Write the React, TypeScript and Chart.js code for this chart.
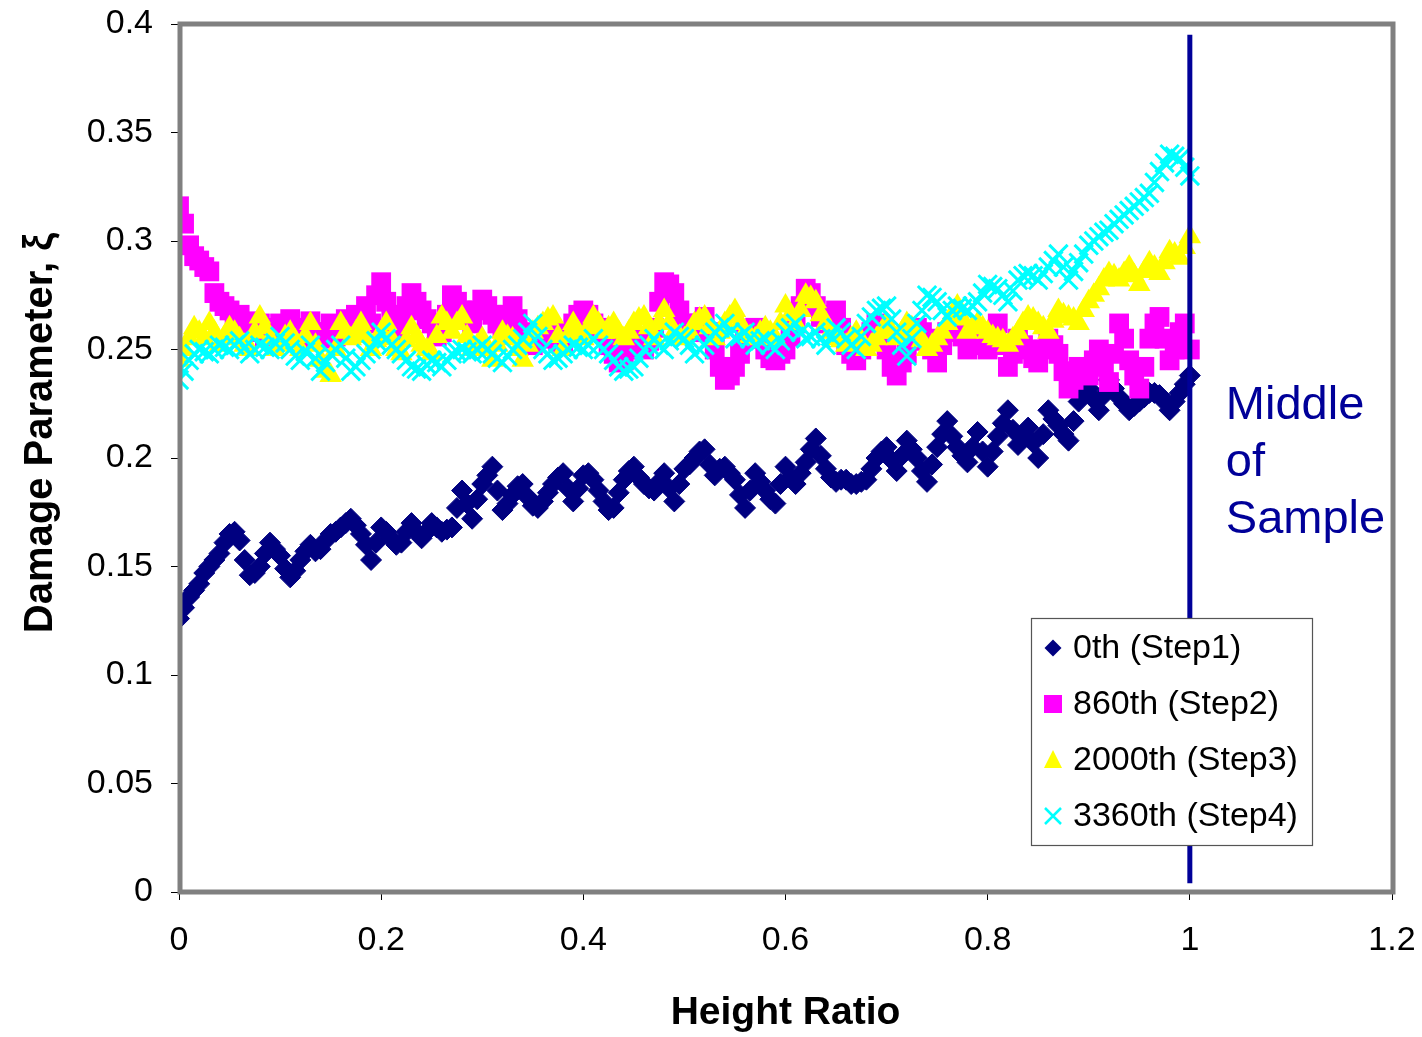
import React, { useEffect, useRef } from 'react';
import { Chart, registerables } from 'chart.js';

Chart.register(...registerables);

const FONT = '"Liberation Sans", Arial, sans-serif';

const heightRatio = [
  0.000, 0.005, 0.010, 0.015, 0.020, 0.025, 0.030, 0.035, 0.040, 0.045,
  0.050, 0.055, 0.060, 0.065, 0.070, 0.075, 0.080, 0.085, 0.090, 0.095,
  0.100, 0.105, 0.110, 0.115, 0.120, 0.125, 0.130, 0.135, 0.140, 0.145,
  0.150, 0.155, 0.160, 0.165, 0.170, 0.175, 0.180, 0.185, 0.190, 0.195,
  0.200, 0.205, 0.210, 0.215, 0.220, 0.225, 0.230, 0.235, 0.240, 0.245,
  0.250, 0.255, 0.260, 0.265, 0.270, 0.275, 0.280, 0.285, 0.290, 0.295,
  0.300, 0.305, 0.310, 0.315, 0.320, 0.325, 0.330, 0.335, 0.340, 0.345,
  0.350, 0.355, 0.360, 0.365, 0.370, 0.375, 0.380, 0.385, 0.390, 0.395,
  0.400, 0.405, 0.410, 0.415, 0.420, 0.425, 0.430, 0.435, 0.440, 0.445,
  0.450, 0.455, 0.460, 0.465, 0.470, 0.475, 0.480, 0.485, 0.490, 0.495,
  0.500, 0.505, 0.510, 0.515, 0.520, 0.525, 0.530, 0.535, 0.540, 0.545,
  0.550, 0.555, 0.560, 0.565, 0.570, 0.575, 0.580, 0.585, 0.590, 0.595,
  0.600, 0.605, 0.610, 0.615, 0.620, 0.625, 0.630, 0.635, 0.640, 0.645,
  0.650, 0.655, 0.660, 0.665, 0.670, 0.675, 0.680, 0.685, 0.690, 0.695,
  0.700, 0.705, 0.710, 0.715, 0.720, 0.725, 0.730, 0.735, 0.740, 0.745,
  0.750, 0.755, 0.760, 0.765, 0.770, 0.775, 0.780, 0.785, 0.790, 0.795,
  0.800, 0.805, 0.810, 0.815, 0.820, 0.825, 0.830, 0.835, 0.840, 0.845,
  0.850, 0.855, 0.860, 0.865, 0.870, 0.875, 0.880, 0.885, 0.890, 0.895,
  0.900, 0.905, 0.910, 0.915, 0.920, 0.925, 0.930, 0.935, 0.940, 0.945,
  0.950, 0.955, 0.960, 0.965, 0.970, 0.975, 0.980, 0.985, 0.990, 0.995,
  1.000,
];

const step1 = [
  0.126, 0.131, 0.136, 0.139, 0.142, 0.147, 0.150, 0.153, 0.156, 0.161,
  0.165, 0.166, 0.162, 0.153, 0.146, 0.147, 0.150, 0.156, 0.161, 0.158,
  0.155, 0.149, 0.145, 0.148, 0.153, 0.157, 0.160, 0.157, 0.158, 0.162,
  0.165, 0.166, 0.168, 0.170, 0.172, 0.169, 0.165, 0.160, 0.153, 0.161,
  0.168, 0.166, 0.163, 0.160, 0.161, 0.166, 0.170, 0.166, 0.163, 0.166,
  0.170, 0.168, 0.166, 0.167, 0.168, 0.177, 0.185, 0.179, 0.172, 0.181,
  0.188, 0.192, 0.196, 0.185, 0.176, 0.179, 0.183, 0.187, 0.188, 0.182,
  0.178, 0.177, 0.180, 0.184, 0.188, 0.191, 0.193, 0.186, 0.180, 0.186,
  0.192, 0.193, 0.190, 0.185, 0.180, 0.176, 0.177, 0.184, 0.190, 0.194,
  0.196, 0.191, 0.188, 0.186, 0.185, 0.189, 0.193, 0.186, 0.180, 0.188,
  0.195, 0.197, 0.200, 0.203, 0.204, 0.197, 0.192, 0.195, 0.196, 0.193,
  0.190, 0.183, 0.177, 0.185, 0.193, 0.189, 0.185, 0.181, 0.179, 0.188,
  0.196, 0.191, 0.188, 0.193, 0.198, 0.204, 0.209, 0.201, 0.195, 0.191,
  0.189, 0.190, 0.190, 0.188, 0.188, 0.189, 0.190, 0.195, 0.200, 0.203,
  0.205, 0.199, 0.194, 0.201, 0.208, 0.204, 0.200, 0.194, 0.189, 0.197,
  0.205, 0.211, 0.217, 0.210, 0.205, 0.201, 0.198, 0.205, 0.212, 0.203,
  0.196, 0.203, 0.210, 0.216, 0.222, 0.213, 0.206, 0.210, 0.214, 0.207,
  0.200, 0.211, 0.222, 0.218, 0.215, 0.211, 0.208, 0.217, 0.226, 0.229,
  0.232, 0.227, 0.222, 0.229, 0.236, 0.232, 0.228, 0.225, 0.222, 0.224,
  0.226, 0.228, 0.230, 0.230, 0.229, 0.226, 0.222, 0.226, 0.230, 0.234,
  0.238,
];

const step2 = [
  0.316, 0.308, 0.298, 0.293, 0.291, 0.288, 0.286, 0.276, 0.272, 0.270,
  0.268, 0.264, 0.266, 0.262, 0.263, 0.258, 0.262, 0.256, 0.260, 0.257,
  0.262, 0.258, 0.264, 0.260, 0.258, 0.255, 0.263, 0.258, 0.255, 0.258,
  0.262, 0.256, 0.258, 0.264, 0.262, 0.266, 0.265, 0.270, 0.262, 0.275,
  0.281, 0.272, 0.266, 0.258, 0.262, 0.270, 0.276, 0.272, 0.268, 0.264,
  0.262, 0.256, 0.258, 0.266, 0.275, 0.272, 0.268, 0.264, 0.262, 0.268,
  0.273, 0.270, 0.266, 0.262, 0.260, 0.266, 0.270, 0.264, 0.258, 0.254,
  0.252, 0.256, 0.255, 0.260, 0.258, 0.254, 0.252, 0.258, 0.262, 0.266,
  0.268, 0.266, 0.262, 0.260, 0.258, 0.252, 0.248, 0.244, 0.245, 0.250,
  0.255, 0.252, 0.250, 0.254, 0.260, 0.272, 0.281, 0.280, 0.276, 0.268,
  0.262, 0.260, 0.258, 0.262, 0.265, 0.258, 0.250, 0.242, 0.236, 0.238,
  0.242, 0.248, 0.255, 0.258, 0.260, 0.255, 0.250, 0.246, 0.245, 0.248,
  0.250, 0.256, 0.262, 0.270, 0.278, 0.276, 0.270, 0.265, 0.262, 0.266,
  0.268, 0.260, 0.252, 0.248, 0.245, 0.250, 0.255, 0.258, 0.262, 0.256,
  0.250, 0.242, 0.238, 0.244, 0.248, 0.254, 0.260, 0.258, 0.255, 0.250,
  0.244, 0.252, 0.258, 0.260, 0.262, 0.256, 0.250, 0.252, 0.255, 0.252,
  0.250, 0.256, 0.262, 0.252, 0.242, 0.248, 0.255, 0.252, 0.250, 0.246,
  0.244, 0.250, 0.255, 0.252, 0.248, 0.240, 0.232, 0.236, 0.242, 0.240,
  0.238, 0.245, 0.250, 0.242, 0.235, 0.248, 0.262, 0.255, 0.245, 0.238,
  0.232, 0.242, 0.255, 0.262, 0.265, 0.255, 0.245, 0.250, 0.258, 0.262,
  0.250,
];

const step3 = [
  0.245, 0.250, 0.255, 0.260, 0.258, 0.255, 0.262, 0.258, 0.252, 0.256,
  0.260, 0.258, 0.255, 0.252, 0.250, 0.258, 0.265, 0.260, 0.255, 0.250,
  0.252, 0.256, 0.258, 0.254, 0.250, 0.256, 0.262, 0.252, 0.245, 0.240,
  0.238, 0.250, 0.262, 0.258, 0.255, 0.258, 0.262, 0.256, 0.250, 0.254,
  0.258, 0.262, 0.255, 0.250, 0.248, 0.254, 0.260, 0.256, 0.252, 0.250,
  0.248, 0.256, 0.265, 0.262, 0.258, 0.262, 0.265, 0.256, 0.250, 0.252,
  0.255, 0.250, 0.245, 0.252, 0.258, 0.256, 0.255, 0.250, 0.245, 0.252,
  0.258, 0.260, 0.262, 0.264, 0.265, 0.256, 0.250, 0.256, 0.262, 0.258,
  0.255, 0.260, 0.265, 0.262, 0.258, 0.260, 0.262, 0.258, 0.255, 0.258,
  0.262, 0.264, 0.265, 0.260, 0.255, 0.262, 0.268, 0.262, 0.258, 0.256,
  0.255, 0.258, 0.262, 0.264, 0.265, 0.260, 0.255, 0.258, 0.262, 0.265,
  0.268, 0.262, 0.258, 0.256, 0.255, 0.258, 0.260, 0.258, 0.255, 0.262,
  0.270, 0.266, 0.262, 0.268, 0.275, 0.274, 0.272, 0.266, 0.262, 0.258,
  0.255, 0.254, 0.252, 0.255, 0.258, 0.254, 0.250, 0.252, 0.255, 0.258,
  0.262, 0.258, 0.255, 0.258, 0.262, 0.260, 0.258, 0.254, 0.250, 0.252,
  0.255, 0.258, 0.262, 0.266, 0.270, 0.264, 0.258, 0.260, 0.262, 0.260,
  0.258, 0.256, 0.255, 0.254, 0.252, 0.255, 0.258, 0.262, 0.265, 0.264,
  0.262, 0.260, 0.258, 0.263, 0.268, 0.266, 0.265, 0.264, 0.262, 0.268,
  0.272, 0.275, 0.278, 0.282, 0.285, 0.284, 0.282, 0.285, 0.288, 0.284,
  0.280, 0.286, 0.290, 0.288, 0.285, 0.290, 0.295, 0.294, 0.292, 0.297,
  0.302,
];

const step4 = [
  0.236, 0.240, 0.245, 0.248, 0.250, 0.249, 0.248, 0.250, 0.252, 0.251,
  0.250, 0.252, 0.254, 0.251, 0.248, 0.250, 0.252, 0.251, 0.250, 0.253,
  0.256, 0.253, 0.250, 0.247, 0.245, 0.249, 0.252, 0.246, 0.240, 0.244,
  0.248, 0.250, 0.252, 0.246, 0.240, 0.242, 0.245, 0.248, 0.250, 0.254,
  0.258, 0.255, 0.252, 0.250, 0.248, 0.245, 0.242, 0.241, 0.240, 0.243,
  0.245, 0.244, 0.242, 0.245, 0.248, 0.249, 0.250, 0.249, 0.248, 0.250,
  0.252, 0.250, 0.248, 0.246, 0.244, 0.247, 0.250, 0.252, 0.255, 0.258,
  0.262, 0.256, 0.250, 0.248, 0.245, 0.246, 0.248, 0.250, 0.252, 0.251,
  0.250, 0.252, 0.255, 0.252, 0.250, 0.248, 0.245, 0.242, 0.240, 0.241,
  0.242, 0.246, 0.250, 0.252, 0.255, 0.252, 0.250, 0.254, 0.258, 0.256,
  0.255, 0.252, 0.248, 0.250, 0.252, 0.255, 0.258, 0.260, 0.262, 0.258,
  0.255, 0.256, 0.258, 0.255, 0.252, 0.254, 0.255, 0.252, 0.250, 0.254,
  0.258, 0.260, 0.262, 0.258, 0.255, 0.256, 0.258, 0.255, 0.252, 0.256,
  0.260, 0.258, 0.255, 0.252, 0.250, 0.256, 0.262, 0.265, 0.268, 0.269,
  0.270, 0.264, 0.258, 0.252, 0.247, 0.255, 0.262, 0.268, 0.275, 0.274,
  0.272, 0.268, 0.265, 0.268, 0.270, 0.269, 0.268, 0.270, 0.272, 0.276,
  0.280, 0.279, 0.278, 0.275, 0.272, 0.277, 0.282, 0.284, 0.285, 0.284,
  0.282, 0.285, 0.288, 0.291, 0.294, 0.288, 0.282, 0.286, 0.290, 0.294,
  0.298, 0.300, 0.302, 0.304, 0.305, 0.308, 0.310, 0.312, 0.314, 0.316,
  0.318, 0.320, 0.322, 0.327, 0.332, 0.336, 0.340, 0.339, 0.338, 0.334,
  0.330,
];

const seriesNames = ['0th (Step1)', '860th (Step2)', '2000th (Step3)', '3360th (Step4)'];
const seriesColors = ['#000080', '#FF00FF', '#FFFF00', '#00FFFF'];
const middleLineX = [1, 1];
const middleLineY = [0.004, 0.395];
const noteLines = ['Middle', 'of', 'Sample'];
const xTitle = 'Height Ratio';
const yTitle = 'Damage Parameter, ξ';

function drawMarker(ctx: CanvasRenderingContext2D, kind: number, x: number, y: number) {
  ctx.save();
  ctx.fillStyle = seriesColors[kind];
  ctx.strokeStyle = seriesColors[kind];
  ctx.beginPath();
  if (kind === 0) {
    const r = 8.5;
    ctx.moveTo(x - r, y); ctx.lineTo(x, y - r); ctx.lineTo(x + r, y); ctx.lineTo(x, y + r);
    ctx.closePath(); ctx.fill();
  } else if (kind === 1) {
    ctx.rect(x - 9, y - 9, 18, 18); ctx.fill();
  } else if (kind === 2) {
    ctx.moveTo(x, y - 10); ctx.lineTo(x + 9, y + 8); ctx.lineTo(x - 9, y + 8);
    ctx.closePath(); ctx.fill();
  } else {
    ctx.lineWidth = 2.5;
    ctx.moveTo(x - 8, y - 8); ctx.lineTo(x + 8, y + 8);
    ctx.moveTo(x + 8, y - 8); ctx.lineTo(x - 8, y + 8);
    ctx.stroke();
  }
  ctx.restore();
}

const decorPlugin = {
  id: 'decor',
  afterDatasetsDraw(chart: any) {
    const { ctx, chartArea: a, scales } = chart;
    const xs = scales.x;
    ctx.save();
    // annotation text
    ctx.fillStyle = '#000099';
    ctx.font = `47px ${FONT}`;
    ctx.textAlign = 'left';
    ctx.textBaseline = 'alphabetic';
    const tx = xs.getPixelForValue(1) + 36;
    noteLines.forEach((t, i) => ctx.fillText(t, tx, 419 + i * 57));
    // plot frame
    ctx.strokeStyle = '#808080';
    ctx.lineWidth = 5;
    ctx.strokeRect(a.left + 1, a.top, a.right - a.left, a.bottom - a.top);
    // legend box
    const lx = 1031, ly = 618, lw = 281, lh = 227;
    ctx.fillStyle = '#ffffff';
    ctx.fillRect(lx, ly, lw, lh);
    ctx.strokeStyle = '#555555';
    ctx.lineWidth = 1.2;
    ctx.strokeRect(lx + 0.5, ly + 0.5, lw, lh);
    ctx.font = `34px ${FONT}`;
    ctx.textBaseline = 'middle';
    seriesNames.forEach((name, i) => {
      const cy = ly + 30 + i * 56;
      drawMarker(ctx, i, lx + 22, cy);
      ctx.fillStyle = '#000000';
      ctx.fillText(name, lx + 42, cy + 1);
    });
    // y title
    ctx.save();
    ctx.translate(41, 433);
    ctx.rotate(-Math.PI / 2);
    ctx.font = `bold 40px ${FONT}`;
    ctx.textAlign = 'center';
    ctx.textBaseline = 'middle';
    ctx.fillStyle = '#000000';
    ctx.fillText(yTitle, 0, 0);
    ctx.restore();
    ctx.restore();
  },
};

export default function App() {
  const ref = useRef<HTMLCanvasElement>(null);
  useEffect(() => {
    if (!ref.current) return;
    const mk = (ys: number[]) => heightRatio.map((x, i) => ({ x, y: ys[i] }));
    const chart = new Chart(ref.current, {
      type: 'scatter',
      data: {
        datasets: [
          {
            label: 'Middle line',
            data: middleLineX.map((x, i) => ({ x, y: middleLineY[i] })),
            showLine: true,
            borderColor: '#000099',
            borderWidth: 5,
            pointRadius: 0,
            order: -1,
          },
          {
            label: seriesNames[0], data: mk(step1), pointStyle: 'rectRot', pointRadius: 10.5,
            backgroundColor: seriesColors[0], borderColor: seriesColors[0], borderWidth: 1, order: 3,
          },
          {
            label: seriesNames[1], data: mk(step2), pointStyle: 'rect', pointRadius: 14,
            backgroundColor: seriesColors[1], borderColor: seriesColors[1], borderWidth: 0, order: 2,
          },
          {
            label: seriesNames[2], data: mk(step3), pointStyle: 'triangle', pointRadius: 13,
            backgroundColor: seriesColors[2], borderColor: seriesColors[2], borderWidth: 0, order: 1,
          },
          {
            label: seriesNames[3], data: mk(step4), pointStyle: 'crossRot', pointRadius: 13,
            backgroundColor: seriesColors[3], borderColor: seriesColors[3], borderWidth: 3, order: 0,
          },
        ],
      },
      options: {
        responsive: false,
        animation: false,
        devicePixelRatio: 1,
        layout: { padding: { top: 24, right: 30, left: 0, bottom: 0 } },
        plugins: { legend: { display: false }, tooltip: { enabled: false } },
        scales: {
          x: {
            type: 'linear',
            min: 0,
            max: 1.2,
            afterFit: (s: any) => { s.height = 145; s.paddingLeft = 0; s.paddingRight = 0; },
            ticks: {
              stepSize: 0.2,
              padding: 20,
              color: '#000',
              font: { family: FONT, size: 34 },
              callback: (v: any) => String(parseFloat(Number(v).toFixed(2))),
            },
            grid: { drawOnChartArea: false, tickLength: 8, color: '#000' },
            border: { display: true, color: '#000', width: 1 },
            title: {
              display: true,
              text: xTitle,
              color: '#000',
              font: { family: FONT, size: 39, weight: 'bold' },
              padding: { top: 0, bottom: 0 },
            },
          },
          y: {
            type: 'linear',
            min: 0,
            max: 0.4,
            afterFit: (s: any) => { s.width = 179; s.paddingTop = 0; s.paddingBottom = 0; },
            ticks: {
              stepSize: 0.05,
              padding: 18,
              color: '#000',
              font: { family: FONT, size: 34 },
              callback: (v: any) => String(parseFloat(Number(v).toFixed(2))),
            },
            grid: { drawOnChartArea: false, tickLength: 8, color: '#000' },
            border: { display: true, color: '#000', width: 1 },
          },
        },
      },
      plugins: [decorPlugin],
    });
    return () => chart.destroy();
  }, []);
  return (
    <div style={{ position: 'fixed', left: 0, top: 0, width: 1422, height: 1037, background: '#fff' }}>
      <canvas ref={ref} width={1422} height={1037} style={{ display: 'block' }} />
    </div>
  );
}
